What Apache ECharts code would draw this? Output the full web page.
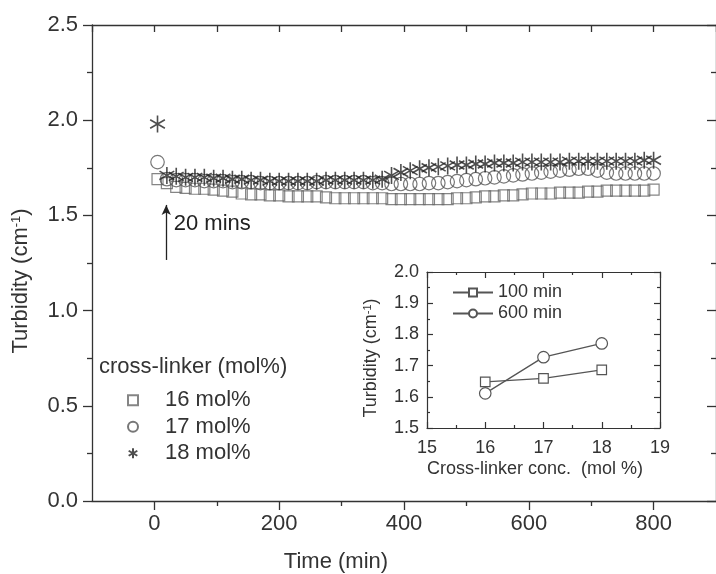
<!DOCTYPE html>
<html>
<head>
<meta charset="utf-8">
<script src="https://cdn.jsdelivr.net/npm/echarts@6/dist/echarts.min.js"></script>
<style>
html,body{margin:0;padding:0;background:#fff;}
#chart{width:716px;height:574px;}
</style>
</head>
<body>
<div id="chart"></div>
<script>
// ---- Main chart data (time in min, turbidity in cm^-1) ----
const times = [5,20,35,50,65,80,95,110,125,140,155,170,185,200,215,230,245,260,275,290,305,320,335,350,365,380,395,410,425,440,455,470,485,500,515,530,545,560,575,590,605,620,635,650,665,680,695,710,725,740,755,770,785,800];
const mol16 = [1.69,1.67,1.65,1.645,1.64,1.64,1.635,1.63,1.625,1.615,
               1.61,1.61,1.605,1.605,1.60,1.60,1.60,1.60,1.595,1.59,
               1.59,1.59,1.59,1.59,1.59,1.585,1.585,1.585,1.585,1.585,
               1.585,1.585,1.59,1.59,1.595,1.60,1.60,1.605,1.605,1.61,
               1.615,1.615,1.615,1.62,1.62,1.62,1.625,1.625,1.63,1.63,
               1.63,1.63,1.63,1.635];
const mol17 = [1.78,1.69,1.685,1.685,1.685,1.68,1.68,1.68,1.675,1.675,
               1.675,1.67,1.67,1.67,1.67,1.67,1.67,1.675,1.675,1.675,
               1.675,1.675,1.675,1.67,1.67,1.665,1.665,1.665,1.665,1.67,
               1.67,1.675,1.68,1.685,1.69,1.695,1.70,1.705,1.71,1.715,
               1.72,1.725,1.73,1.735,1.74,1.745,1.745,1.735,1.725,1.72,
               1.72,1.72,1.72,1.72];
const mol18 = [1.98,1.71,1.705,1.70,1.70,1.70,1.695,1.695,1.69,1.69,
               1.685,1.685,1.68,1.68,1.68,1.68,1.68,1.68,1.685,1.685,
               1.685,1.685,1.685,1.685,1.69,1.71,1.725,1.735,1.745,1.75,
               1.755,1.76,1.765,1.765,1.77,1.77,1.775,1.775,1.775,1.78,
               1.78,1.78,1.78,1.78,1.785,1.785,1.785,1.785,1.785,1.785,
               1.785,1.785,1.79,1.79];
const seriesNames = ['16 mol%','17 mol%','18 mol%'];
const xTickLabels = [0,200,400,600,800];
const xMinorTicks = [100,300,500,700];

// ---- Annotation ----
const arrowTime = 19;
const arrowFrom = 1.266;
const arrowTo = 1.555;
const noteTime = 31;
const noteValue = 1.455;
const noteText = '20 mins';

// ---- Inset data ----
const insetConc = [16,17,18];
const inset100 = [1.648,1.659,1.686];
const inset600 = [1.611,1.727,1.771];
const insetNames = ['100 min','600 min'];

const FONT = 'Liberation Sans, Arial, sans-serif';
const TXT = '#333';
const AX = '#333';
const starPath = 'path://M0,-10L0,10M-8.66,-5L8.66,5M-8.66,5L8.66,-5';

function pairs(xs, ys){ return xs.map((x,i)=>[x, ys[i]]); }

const chart = echarts.init(document.getElementById('chart'), null, {renderer:'canvas'});

const lineStyleAx = {color: AX, width: 1.3};
const insetLine = {color: AX, width: 1.2};

const option = {
  animation: false,
  backgroundColor: '#fff',
  textStyle: {fontFamily: FONT},
  title: {
    text: 'cross-linker (mol%)',
    left: 99, top: 356, padding: 0,
    textStyle: {fontFamily: FONT, fontSize: 22, fontWeight: 'normal', color: TXT}
  },
  legend: [
    {
      data: seriesNames,
      orient: 'vertical', left: 127, top: 387, padding: 0,
      itemWidth: 10, itemHeight: 10, itemGap: 0,
      selectedMode: false,
      textStyle: {fontFamily: FONT, fontSize: 22, color: TXT, lineHeight: 26.5, padding: [0,0,0,22]}
    },
    {
      data: insetNames,
      orient: 'vertical', left: 452, top: 282, padding: 0,
      itemWidth: 40, itemHeight: 10, itemGap: 0,
      selectedMode: false,
      textStyle: {fontFamily: FONT, fontSize: 18, color: TXT, lineHeight: 21}
    }
  ],
  grid: [
    {left: 92, top: 25, width: 626, height: 476},
    {left: 427, top: 272, width: 233, height: 156}
  ],
  xAxis: [
    { // main bottom, major ticks + labels
      type: 'value', gridIndex: 0, position: 'bottom', min: -100, max: 900,
      axisLine: {show: true, onZero: false, lineStyle: lineStyleAx},
      axisTick: {show: true, length: 9, customValues: xTickLabels, lineStyle: lineStyleAx},
      axisLabel: {show: true, customValues: xTickLabels, margin: 12, fontSize: 22, color: TXT, fontFamily: FONT},
      splitLine: {show: false}
    },
    { // main bottom minor ticks
      type: 'value', gridIndex: 0, position: 'bottom', min: -100, max: 900,
      axisLine: {show: false, onZero: false},
      axisTick: {show: true, length: 5, customValues: xMinorTicks, lineStyle: lineStyleAx},
      axisLabel: {show: false},
      splitLine: {show: false}
    },
    { // main top
      type: 'value', gridIndex: 0, position: 'top', min: -100, max: 900, interval: 100,
      axisLine: {show: true, onZero: false, lineStyle: lineStyleAx},
      axisTick: {show: true, inside: true, length: 7, lineStyle: lineStyleAx},
      axisLabel: {show: false},
      splitLine: {show: false}
    },
    { // inset bottom
      type: 'value', gridIndex: 1, position: 'bottom', min: 15, max: 19, interval: 1,
      axisLine: {show: true, onZero: false, lineStyle: insetLine},
      axisTick: {show: true, inside: true, length: 6, lineStyle: insetLine},
      minorTick: {show: true, splitNumber: 2, length: 3, lineStyle: insetLine},
      axisLabel: {show: true, margin: 11, fontSize: 18, color: TXT, fontFamily: FONT},
      splitLine: {show: false}, minorSplitLine: {show: false}
    },
    { // inset top
      type: 'value', gridIndex: 1, position: 'top', min: 15, max: 19, interval: 1,
      axisLine: {show: true, onZero: false, lineStyle: insetLine},
      axisTick: {show: true, inside: true, length: 6, lineStyle: insetLine},
      minorTick: {show: true, splitNumber: 2, length: 3, lineStyle: insetLine},
      axisLabel: {show: false},
      splitLine: {show: false}
    }
  ],
  yAxis: [
    {
      type: 'value', gridIndex: 0, position: 'left', min: 0, max: 2.5, interval: 0.5,
      axisLine: {show: true, onZero: false, lineStyle: lineStyleAx},
      axisTick: {show: true, length: 9, lineStyle: lineStyleAx},
      minorTick: {show: true, splitNumber: 2, length: 5, lineStyle: lineStyleAx},
      axisLabel: {show: true, margin: 14, fontSize: 22, color: TXT, fontFamily: FONT,
                  formatter: v => v.toFixed(1)},
      splitLine: {show: false}, minorSplitLine: {show: false}
    },
    {
      type: 'value', gridIndex: 0, position: 'right', min: 0, max: 2.5, interval: 0.5,
      axisLine: {show: true, onZero: false, lineStyle: lineStyleAx},
      axisTick: {show: true, inside: true, length: 9, lineStyle: lineStyleAx},
      minorTick: {show: true, splitNumber: 2, length: 5, lineStyle: lineStyleAx},
      axisLabel: {show: false},
      splitLine: {show: false}
    },
    {
      type: 'value', gridIndex: 1, position: 'left', min: 1.5, max: 2.0, interval: 0.1,
      axisLine: {show: true, onZero: false, lineStyle: insetLine},
      axisTick: {show: true, inside: true, length: 6, lineStyle: insetLine},
      minorTick: {show: true, splitNumber: 2, length: 3, lineStyle: insetLine},
      axisLabel: {show: true, margin: 8, fontSize: 18, color: TXT, fontFamily: FONT,
                  formatter: v => v.toFixed(1)},
      splitLine: {show: false}, minorSplitLine: {show: false}
    },
    {
      type: 'value', gridIndex: 1, position: 'right', min: 1.5, max: 2.0, interval: 0.1,
      axisLine: {show: true, onZero: false, lineStyle: insetLine},
      axisTick: {show: true, inside: true, length: 6, lineStyle: insetLine},
      minorTick: {show: true, splitNumber: 2, length: 3, lineStyle: insetLine},
      axisLabel: {show: false},
      splitLine: {show: false}
    }
  ],
  graphic: [
    {
      type: 'text', x: 21, y: 281, rotation: Math.PI / 2,
      style: {
        text: 'Turbidity (cm{sup|-1})',
        fill: TXT, font: '22px ' + FONT,
        align: 'center', verticalAlign: 'middle',
        rich: {sup: {fontSize: 13, fontFamily: FONT, fill: TXT, verticalAlign: 'top', lineHeight: 14}}
      }
    },
    {
      type: 'text', x: 336, y: 562,
      style: {text: 'Time (min)', fill: TXT, font: '22px ' + FONT, align: 'center', verticalAlign: 'middle'}
    },
    {
      type: 'text', x: 371, y: 358, rotation: Math.PI / 2,
      style: {
        text: 'Turbidity (cm{sup|-1})',
        fill: TXT, font: '18px ' + FONT,
        align: 'center', verticalAlign: 'middle',
        rich: {sup: {fontSize: 11, fontFamily: FONT, fill: TXT, verticalAlign: 'top', lineHeight: 11}}
      }
    },
    {
      type: 'text', x: 535, y: 469,
      style: {text: 'Cross-linker conc.  (mol %)', fill: TXT, font: '18px ' + FONT, align: 'center', verticalAlign: 'middle'}
    }
  ],
  series: [
    {
      name: seriesNames[0], type: 'scatter', xAxisIndex: 0, yAxisIndex: 0,
      data: pairs(times, mol16),
      symbol: 'rect', symbolSize: 11,
      itemStyle: {color: 'rgba(255,255,255,0)', borderColor: '#666', borderWidth: 1.2},
      markLine: {
        silent: true, symbol: ['none', 'arrow'], symbolSize: [7, 10],
        lineStyle: {color: '#222', width: 1.3, type: 'solid'},
        label: {show: false},
        data: [[{coord: [arrowTime, arrowFrom]}, {coord: [arrowTime, arrowTo]}]]
      },
      markPoint: {
        silent: true, symbol: 'circle', symbolSize: 0,
        label: {show: true, position: 'right', distance: 0, formatter: noteText,
                fontSize: 22, color: '#222', fontFamily: FONT},
        data: [{coord: [noteTime, noteValue]}]
      }
    },
    {
      name: seriesNames[1], type: 'scatter', xAxisIndex: 0, yAxisIndex: 0,
      data: pairs(times, mol17),
      symbol: 'circle', symbolSize: 13.5,
      itemStyle: {color: 'rgba(255,255,255,0)', borderColor: '#555', borderWidth: 1.2}
    },
    {
      name: seriesNames[2], type: 'scatter', xAxisIndex: 0, yAxisIndex: 0,
      data: pairs(times, mol18),
      symbol: starPath, symbolSize: 17, symbolKeepAspect: true,
      itemStyle: {color: 'rgba(255,255,255,0)', borderColor: '#222', borderWidth: 1.6}
    },
    {
      name: insetNames[0], type: 'line', xAxisIndex: 3, yAxisIndex: 2,
      data: pairs(insetConc, inset100),
      symbol: 'rect', symbolSize: 9.5,
      lineStyle: {color: '#555', width: 1.3},
      itemStyle: {color: '#fff', borderColor: '#555', borderWidth: 1.2}
    },
    {
      name: insetNames[1], type: 'line', xAxisIndex: 3, yAxisIndex: 2,
      data: pairs(insetConc, inset600),
      symbol: 'circle', symbolSize: 11.5,
      lineStyle: {color: '#555', width: 1.3},
      itemStyle: {color: '#fff', borderColor: '#555', borderWidth: 1.2}
    }
  ]
};
chart.setOption(option);
</script>
</body>
</html>
